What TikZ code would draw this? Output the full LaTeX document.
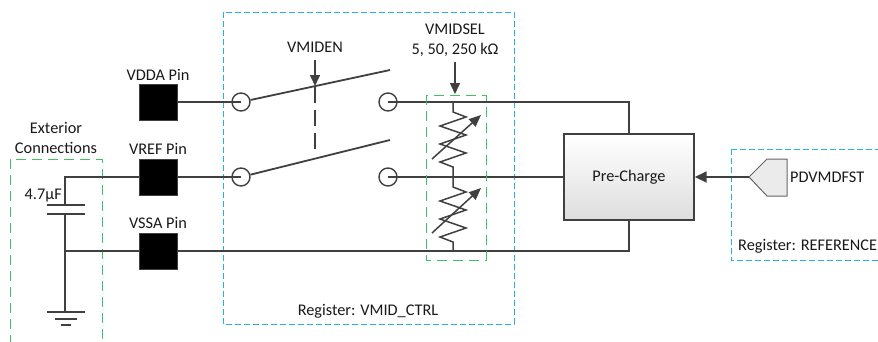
\documentclass[tikz,border=0pt]{standalone}
\usepackage{fontspec}
\setmainfont{Carlito}
\usetikzlibrary{arrows.meta}
\definecolor{wirec}{RGB}{64,64,64}
\definecolor{regblue}{RGB}{40,175,230}
\definecolor{grn}{RGB}{60,195,100}
\begin{document}
\begin{tikzpicture}[x=1pt,y=-1pt,
  every node/.style={font=\fontsize{16.3}{19.5}\selectfont, text=black!90},
  wire/.style={draw=wirec, line width=1.8pt},
  thin wire/.style={draw=wirec, line width=1.5pt},
  pinbox/.style={draw=wirec, fill=black, minimum width=38pt, minimum height=36pt, inner sep=0pt, line width=1pt},
  term/.style={circle, draw=wirec, line width=1.4pt, minimum size=18pt, inner sep=0pt},
  regbox/.style={draw=regblue, line width=0.9pt, dash pattern=on 6pt off 3pt},
  grnbox/.style={draw=grn, line width=1pt, dash pattern=on 10pt off 6pt},
  tip/.style={-{Triangle[length=11pt,width=10pt]}},
  lbl/.style={inner sep=0pt}
]
\useasboundingbox (0,0) rectangle (878,341);

% register boxes
\draw[regbox] (223,12) rectangle (514,324);
\node[lbl] (vmidreg) at (368,311) {Register: VMID\_CTRL};
\draw[regbox] (731,149) -- (885,149);
\draw[regbox] (731,149) -- (731,260) -- (885,260);
\node[lbl, anchor=west] (refreg) at (738,246) {Register: REFERENCE};

% exterior box
\draw[grnbox] (10,345) -- (10,159) -- (102,159) -- (102,345);
\node[lbl, align=center, fill=white, inner sep=1pt] (ext) at (56,138) {Exterior\\Connections};

% pins
\node[pinbox] (vdda) at (158,102) {};
\node[pinbox] (vref) at (158,177) {};
\node[pinbox] (vssa) at (158,251) {};
\node[lbl] (vddal) at (158,75) {VDDA Pin};
\node[lbl] (vrefl) at (158,149) {VREF Pin};
\node[lbl] (vssal) at (158,223) {VSSA Pin};

% terminals
\node[term] (l1) at (241,102) {};
\node[term] (l2) at (241,177) {};
\node[term] (r1) at (388,102) {};
\node[term] (r2) at (388,177) {};

% pre-charge
\node[draw=wirec, line width=1.4pt, top color=white, bottom color=black!13,
      minimum width=130pt, minimum height=86pt] (pc) at (629,177) {Pre-Charge};

% wires
\draw[wire] (vdda.east) -- (l1.center);
\draw[wire] (vref.east) -- (l2.center);
\draw[wire] (r1.center) -| (pc.north);
\draw[wire] (r2.center) -- (pc.west);
\draw[wire] (vssa.east) -| (pc.south);

% switches
\coordinate (sw1) at (390,70);
\coordinate (sw2) at (390,140);
\draw[wire] (l1.12) -- (sw1);
\draw[wire] (l2.14) -- (sw2);
\draw[wire, line width=1.6pt, dash pattern=on 16pt off 7pt] (315,87) -- (315,152);
\node[lbl] (vmiden) at (315,47) {VMIDEN};
\coordinate (vmidenTip) at (315,86);
\draw[wire, line width=1.5pt, tip] (315,60) -- (vmidenTip);

% resistors
\draw[grnbox] (426,95) rectangle (486,260);
\node[lbl, align=center] (vmidsel) at (455,40) {VMIDSEL\\5, 50, 250 kΩ};
\coordinate (selTip) at (455,94);
\draw[wire, line width=1.5pt, tip] (455,62) -- (selTip);
\draw[thin wire, line join=miter] (453,102) -- (453,112) -- ++(13,5) -- ++(-26,9) -- ++(26,9) -- ++(-26,9) -- ++(26,9) -- ++(-26,9) -- ++(13,5) -- (453,177)
  -- (453,187) -- ++(13,5) -- ++(-26,9) -- ++(26,9) -- ++(-26,9) -- ++(26,9) -- ++(-26,9) -- ++(13,5) -- (453,251);
\draw[thin wire, -{Triangle[length=12pt,width=10pt]}] (432,159) -- (481,115);
\draw[thin wire, -{Triangle[length=12pt,width=10pt]}] (432,233) -- (481,188);

% capacitor and ground
\coordinate (cj) at (65,177);
\coordinate (gj) at (65,251);
\coordinate (gnd) at (65,312);
\draw[wire] (vref.west) -- (cj) -- (65,205);
\draw[wire] (47,205) -- (85,205);
\draw[wire] (47,214) -- (85,214);
\draw[wire] (65,214) -- (gnd);
\draw[wire] (vssa.west) -- (gj);
\draw[wire] (47,312) -- (85,312);
\draw[wire] (55,319) -- (77,319);
\draw[wire] (61,325) -- (71,325);
\node[lbl, anchor=east] (capl) at (62,196) {4.7µF};

% PDVMDFST
\coordinate (pd) at (749,177);
\draw[draw=black!60, fill=black!8, line width=1pt] (pd) -- (767,159) -- (787,159) -- (787,196) -- (767,196) -- cycle;
\draw[wire, -{Triangle[length=12pt,width=11pt]}] (pd) -- (pc.east);
\node[lbl, anchor=west] (pdl) at (790,177) {PDVMDFST};
\end{tikzpicture}
\end{document}
